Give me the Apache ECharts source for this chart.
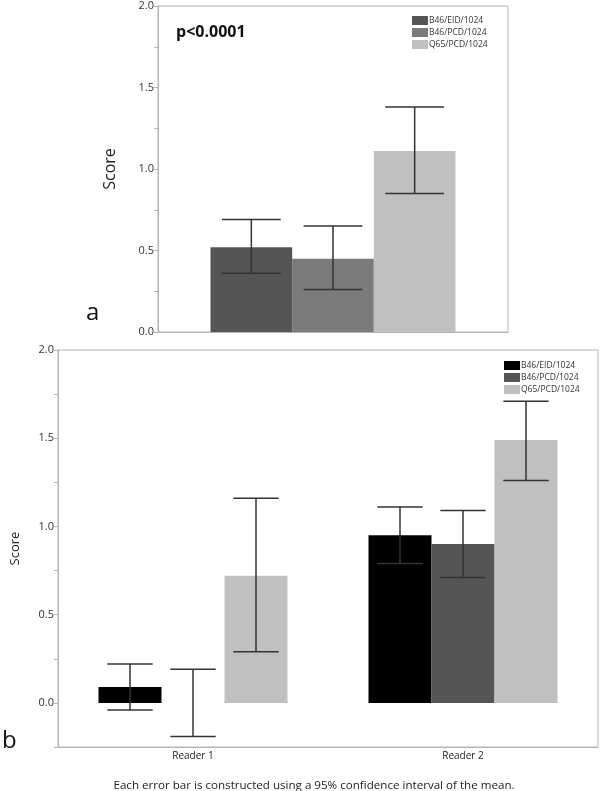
<!DOCTYPE html>
<html>
<head>
<meta charset="utf-8">
<script src="https://cdn.jsdelivr.net/npm/echarts@6/dist/echarts.min.js"></script>
<style>
  html, body { margin: 0; padding: 0; background: #fff; }
  #top { position: absolute; left: 0; top: 0; width: 600px; height: 340px; }
  #bottom { position: absolute; left: 0; top: 340px; width: 600px; height: 451px; }
  #caption { position: absolute; left: 14px; top: 777px; width: 600px; text-align: center;
    font: 11.6px 'Open Sans', sans-serif; color: #222; white-space: nowrap; }
</style>
</head>
<body>
<div id="top"></div>
<div id="bottom"></div>
<div id="caption">Each error bar is constructed using a 95% confidence interval of the mean.</div>
<script>
// panel a
const topCats = [''];
const topNames = ['B46/EID/1024', 'B46/PCD/1024', 'Q65/PCD/1024'];
const topColors = ['#555555', '#7b7b7b', '#c0c0c0'];
const topMeans = [[0.52], [0.45], [1.11]];
const topLow = [[0.36], [0.26], [0.85]];
const topHigh = [[0.69], [0.65], [1.38]];

// panel b
const readers = ['Reader 1', 'Reader 2'];
const botNames = ['B46/EID/1024', 'B46/PCD/1024', 'Q65/PCD/1024'];
const botColors = ['#000000', '#555555', '#c0c0c0'];
const botMeans = [[0.09, 0.95], [0.0, 0.90], [0.72, 1.49]];
const botLow = [[-0.04, 0.79], [-0.19, 0.71], [0.29, 1.26]];
const botHigh = [[0.22, 1.11], [0.19, 1.09], [1.16, 1.71]];

const FONT = "'Open Sans', sans-serif";
const GAP = 0.3; // barCategoryGap

// error bar drawn as custom series, offset by bar index
function errorSeries (idx, low, high, nBars) {
  return {
    type: 'custom',
    z: 5,
    silent: true,
    data: low.map((l, i) => [i, l, high[i]]),
    renderItem (params, api) {
      const catW = api.size([1, 0])[0];
      const barW = catW * (1 - GAP) / nBars;
      const hi = api.coord([api.value(0), api.value(2)]);
      const lo = api.coord([api.value(0), api.value(1)]);
      const cx = hi[0] + (idx - (nBars - 1) / 2) * barW;
      const cap = barW * 0.36;
      const st = { stroke: '#333', lineWidth: 1.5 };
      return {
        type: 'group',
        children: [
          { type: 'line', shape: { x1: cx, y1: hi[1], x2: cx, y2: lo[1] }, style: st },
          { type: 'line', shape: { x1: cx - cap, y1: hi[1], x2: cx + cap, y2: hi[1] }, style: st },
          { type: 'line', shape: { x1: cx - cap, y1: lo[1], x2: cx + cap, y2: lo[1] }, style: st }
        ]
      };
    }
  };
}

function yAxisCfg (min, nameGap, nameSize) {
  return {
    type: 'value',
    min: min,
    max: 2,
    interval: 0.25,
    name: 'Score',
    nameLocation: 'middle',
    nameGap: nameGap,
    nameTextStyle: { fontFamily: FONT, fontSize: nameSize, color: '#222' },
    axisLine: { show: true, lineStyle: { color: '#b5b5b5' } },
    axisTick: { show: true, length: 4, lineStyle: { color: '#b5b5b5' } },
    splitLine: { show: false },
    axisLabel: {
      fontFamily: FONT,
      fontSize: 11,
      color: '#333',
      margin: 4,
      formatter: v => (Math.abs(v * 2 - Math.round(v * 2)) < 1e-6 ? v.toFixed(1) : '')
    }
  };
}

function buildOption (cats, names, colors, means, low, high, grid, yAxis, xLabel, legendPos) {
  const series = [];
  names.forEach((n, i) => {
    series.push({
      name: n,
      type: 'bar',
      data: means[i],
      barGap: '0%',
      barCategoryGap: (GAP * 100) + '%',
      itemStyle: { color: colors[i] }
    });
  });
  names.forEach((n, i) => series.push(errorSeries(i, low[i], high[i], names.length)));
  return {
    animation: false,
    grid: Object.assign({ show: true, borderColor: '#b5b5b5', borderWidth: 1, backgroundColor: '#fff' }, grid),
    legend: Object.assign({
      orient: 'vertical',
      icon: 'rect',
      itemWidth: 16,
      itemHeight: 9,
      itemGap: 3,
      data: names,
      textStyle: { fontFamily: FONT, fontSize: 8.5, color: '#333', padding: [0, 0, 0, -4] }
    }, legendPos),
    xAxis: {
      type: 'category',
      data: cats,
      axisLine: { onZero: false, lineStyle: { color: '#b5b5b5' } },
      axisTick: { show: false },
      axisLabel: { show: xLabel, fontFamily: FONT, fontSize: 10, color: '#222', margin: 4 }
    },
    yAxis: yAxis,
    series: series
  };
}

const topChart = echarts.init(document.getElementById('top'));
const topOpt = buildOption(topCats, topNames, topColors, topMeans, topLow, topHigh,
  { left: 158, right: 92, top: 6, bottom: 8 }, yAxisCfg(0, 40, 16), false,
  { left: 407, top: 11 });
topOpt.graphic = [
  { type: 'text', left: 176, top: 24, style: { text: 'p<0.0001', font: 'bold 16px ' + FONT, fill: '#111' } },
  { type: 'text', left: 86, top: 301, style: { text: 'a', font: '24px ' + FONT, fill: '#111' } }
];
topChart.setOption(topOpt);

const botChart = echarts.init(document.getElementById('bottom'));
const botOpt = buildOption(readers, botNames, botColors, botMeans, botLow, botHigh,
  { left: 58, right: 2, top: 10, bottom: 44 }, yAxisCfg(-0.25, 36, 13), true,
  { left: 499, top: 16 });
botOpt.graphic = [
  { type: 'text', left: 2, top: 389, style: { text: 'b', font: '24px ' + FONT, fill: '#111' } }
];
botChart.setOption(botOpt);
</script>
</body>
</html>
